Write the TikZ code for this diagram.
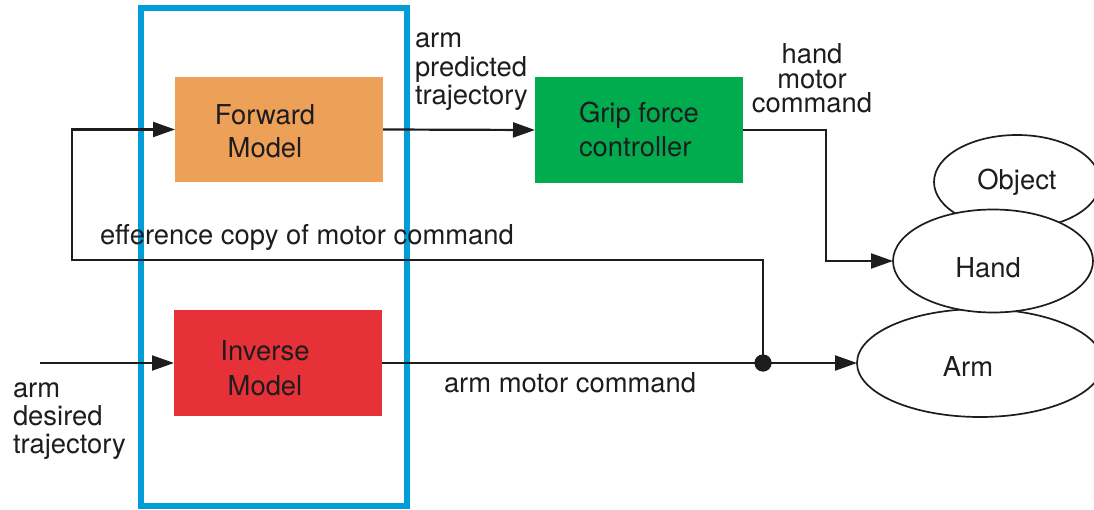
\documentclass[tikz,border=0pt]{standalone}
\usepackage{fontspec}
\setmainfont{TeX Gyre Heros}
\usetikzlibrary{arrows.meta,shapes.geometric}

\definecolor{ink}{RGB}{30,28,30}
\definecolor{frameblue}{RGB}{0,157,214}
\definecolor{fwdorange}{RGB}{237,160,88}
\definecolor{invred}{RGB}{229,49,55}
\definecolor{gripgreen}{RGB}{0,172,78}

% stacked lines with a fixed baseline distance; the baseline is that of the first line
\newcommand\lstack[2]{\vtop{\baselineskip=#1\relax\lineskiplimit=-\maxdimen\halign{##\hfil\cr#2\crcr}}}
\newcommand\cstack[2]{\vtop{\baselineskip=#1\relax\lineskiplimit=-\maxdimen\halign{\hfil##\hfil\cr#2\crcr}}}

\begin{document}
\begin{tikzpicture}[x=1pt,y=-1pt,
  every node/.style={font=\fontsize{27.4}{32}\selectfont, text=ink, inner sep=0pt, outer sep=0pt},
  block/.style={draw=none, minimum width=208pt, minimum height=105pt},
  body/.style={ellipse, draw=ink, line width=1.7pt, fill=white},
  wire/.style={draw=ink, line width=2.2pt},
  arr/.style={wire, -{Triangle[length=22pt,width=15pt]}},
  group/.style={draw=frameblue, line width=6pt, fill=none},
]
\useasboundingbox (0,0) rectangle (1094,510);
\clip (0,0) rectangle (1094,510);

% internal model group
\node[group, minimum width=266pt, minimum height=497pt] (grp) at (274,257) {};

% model blocks
\node[block, fill=fwdorange] (fwd) at (279,129.5) {};
\node[block, fill=invred] (inv) at (278,363) {};
\node[block, fill=gripgreen, minimum height=106pt] (grip) at (639,130) {};

% body parts
\node[body, minimum width=246pt, minimum height=108pt] (arm) at (980,363) {};
\node[body, minimum width=166pt, minimum height=94pt] (obj) at (1017,182) {};
\node[body, minimum width=200pt, minimum height=103pt] (hand) at (993,261) {};

% free ends and bends
\coordinate (src) at (40,363);
\coordinate (effl) at (72,260);
\coordinate (hbend) at (826,130);
\node[circle, fill=ink, minimum size=17pt] (dot) at (763,363) {};

% signal flow
\draw[arr] (src) -- (inv.west);
\draw[arr] (inv.east) -- (arm.west);
\draw[arr] (dot.center) -- (dot.center |- effl) -- (effl) |- (fwd.west);
\draw[arr] (fwd.east) -- (grip.west);
\draw[arr] (grip.east) -- (hbend) |- (hand.west);
\node[circle, fill=ink, minimum size=17pt] at (dot) {};

% block texts
\node[anchor=base] (fwdtxt) at (265,125) {\cstack{33pt}{Forward\cr Model}};
\node[anchor=base] (invtxt) at (265,360) {\cstack{35pt}{Inverse\cr Model}};
\node[anchor=base west] (griptxt) at (579,123) {\lstack{34pt}{Grip force\cr controller}};

% body texts
\node[anchor=base] (objtxt) at (1017,190) {Object};
\node[anchor=base] (handtxt) at (988,278) {Hand};
\node[anchor=base] (armtxt) at (968,376) {Arm};

% signal labels
\node[anchor=base west] (predlbl) at (415,48) {\lstack{28.5pt}{arm\cr predicted\cr trajectory}};
\node[anchor=base] (hmclbl) at (812,64) {\cstack{24.5pt}{hand\cr motor\cr command}};
\node[anchor=base west] (efflbl) at (100,245) {efference copy of motor command};
\node[anchor=base west] (amclbl) at (444,392) {arm motor command};
\node[anchor=base west] (desl) at (13,397) {\lstack{28pt}{arm\cr desired\cr trajectory}};
\end{tikzpicture}
\end{document}
